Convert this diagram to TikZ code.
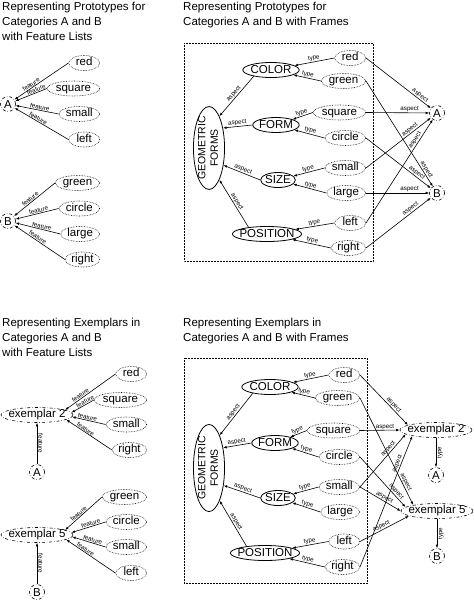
\documentclass[tikz,border=0pt]{standalone}
\usepackage{fontspec}
\setmainfont{Liberation Sans}
\usepackage{graphicx}
\usetikzlibrary{shapes.geometric,arrows.meta}

\tikzset{
  val/.style={draw, densely dotted, line width=0.6pt, ellipse, inner xsep=1pt, inner ysep=0pt,
    minimum width=31pt, minimum height=15pt, text height=8pt, text depth=2.5pt},
  attr/.style={draw, line width=0.8pt, ellipse, inner xsep=-0.5pt, inner ysep=0pt,
    minimum height=15pt, text height=8pt, text depth=0.5pt},
  exmp/.style={draw, dash dot, line width=0.6pt, ellipse, inner xsep=-3pt, inner ysep=0pt,
    minimum height=15pt, text height=8pt, text depth=2.5pt},
  cat/.style={draw, dash dot, line width=0.6pt, circle, inner sep=0pt, minimum size=15pt,
    text height=8pt, text depth=0pt},
  gf/.style={draw, line width=0.8pt, ellipse, inner xsep=-1.5pt, inner ysep=-2.5pt,
    font=\fontsize{10.5}{12.5}\selectfont},
  arr/.style={-{Latex[length=3.5pt,width=2.6pt]}, line width=0.6pt},
  lab/.style={font=\fontsize{6.2}{7}\selectfont, sloped, above, inner sep=0.5pt},
  vlab/.style={font=\fontsize{6.2}{7}\selectfont, inner sep=1pt},
  title/.style={anchor=north west, align=left, inner sep=0pt, font=\fontsize{11.5}{15}\selectfont},
  panelbox/.style={densely dotted, line width=0.5pt}
}

\begin{document}
\begin{tikzpicture}[x=1pt, y=-1pt, font=\fontsize{11.5}{14}\selectfont]
\useasboundingbox (0,0) rectangle (474,600);

% Prototypes with feature lists
\node[title] (ta) at (2,1.5) {Representing Prototypes for\\Categories A and B\\with Feature Lists};
\node[cat] (aA) at (8,104) {A};
\node[cat] (aB) at (8,221) {B};
\node[val, anchor=east] (ared) at (100,63) {red};
\node[val, anchor=east] (asquare) at (100,88.5) {square};
\node[val, anchor=east] (asmall) at (100,114) {small};
\node[val, anchor=east] (aleft) at (100,139.5) {left};
\node[val, anchor=east] (agreen) at (100,183) {green};
\node[val, anchor=east] (acircle) at (100,208.5) {circle};
\node[val, anchor=east] (alarge) at (100,234) {large};
\node[val, anchor=east] (aright) at (100,259.5) {right};

\draw[arr] (ared.west) -- node[lab, pos=0.66] {feature} (aA);
\draw[arr] (asquare.west) -- node[lab, pos=0.3] {feature} (aA);
\draw[arr] (asmall.west) -- node[lab, pos=0.45] {feature} (aA);
\draw[arr] (aleft.west) -- node[lab, pos=0.59] {feature} (aA);
\draw[arr] (agreen.west) -- node[lab, pos=0.56] {feature} (aB);
\draw[arr] (acircle.west) -- node[lab, pos=0.45] {feature} (aB);
\draw[arr] (alarge.west) -- node[lab, pos=0.43] {feature} (aB);
\draw[arr] (aright.west) -- node[lab, pos=0.57] {feature} (aB);

% Prototypes with frames
\node[title] (tb) at (183,1.5) {Representing Prototypes for\\Categories A and B with Frames};
\draw[panelbox] (184,43) rectangle (373,261);
\node[gf] (bgf) at (209,148) {\rotatebox{90}{\begin{tabular}{@{}c@{}}GEOMETRIC\\FORMS\end{tabular}}};
\node[attr] (bcolor) at (271,70) {COLOR};
\node[attr] (bform) at (276,125) {FORM};
\node[attr] (bsize) at (278,180) {SIZE};
\node[attr, inner xsep=-3pt] (bpos) at (267,234) {POSITION};
\node[val, anchor=east] (bred) at (366,58) {red};
\node[val, anchor=east] (bgreen) at (366,81) {green};
\node[val, anchor=east] (bsquare) at (366,112.5) {square};
\node[val, anchor=east] (bcircle) at (366,138) {circle};
\node[val, anchor=east] (bsmall) at (366,168) {small};
\node[val, anchor=east] (blarge) at (366,193) {large};
\node[val, anchor=east] (bleft) at (366,223) {left};
\node[val, anchor=east] (bright) at (366,248) {right};
\node[cat] (bA) at (437,113) {A};
\node[cat] (bB) at (437,193) {B};

\draw[arr] (bred.west) -- node[lab] {type} (bcolor);
\draw[arr] (bgreen.west) -- node[lab] {type} (bcolor);
\draw[arr] (bsquare.west) -- node[lab] {type} (bform);
\draw[arr] (bcircle.west) -- node[lab] {type} (bform);
\draw[arr] (bsmall.west) -- node[lab] {type} (bsize);
\draw[arr] (blarge.west) -- node[lab] {type} (bsize);
\draw[arr] (bleft.west) -- node[lab] {type} (bpos);
\draw[arr] (bright.west) -- node[lab] {type} (bpos);
\draw[arr] (bcolor.200) -- node[lab] {aspect} (bgf.72);
\draw[arr] (bform.west) -- node[lab] {aspect} (bgf.55);
\draw[arr] (bsize.west) -- node[lab] {aspect} (bgf.-50);
\draw[arr] (bpos.160) -- node[lab] {aspect} (bgf.-72);
\draw[arr] (bred.east) -- node[lab, pos=0.8] {aspect} (bA);
\draw[arr] (bsquare.east) -- node[lab, pos=0.69] {aspect} (bA);
\draw[arr] (bsmall.east) -- node[lab, pos=0.71] {aspect} (bA);
\draw[arr] (bleft.east) -- node[lab, pos=0.78] {aspect} (bA);
\draw[arr] (bgreen.east) -- node[lab, pos=0.86] {aspect} (bB);
\draw[arr] (bcircle.east) -- node[lab, pos=0.75] {aspect} (bB);
\draw[arr] (blarge.east) -- node[lab, pos=0.69] {aspect} (bB);
\draw[arr] (bright.east) -- node[lab, pos=0.72] {aspect} (bB);

% Exemplars with feature lists
\node[title] (tc) at (2,317.5) {Representing Exemplars in\\Categories A and B\\with Feature Lists};
\node[exmp] (cex2) at (37,415) {exemplar 2};
\node[exmp] (cex5) at (37,535) {exemplar 5};
\node[cat] (cA) at (37,472) {A};
\node[cat] (cB) at (37,592) {B};
\node[val, anchor=east] (cred) at (147,374) {red};
\node[val, anchor=east] (csquare) at (147,400) {square};
\node[val, anchor=east] (csmall) at (147,424.5) {small};
\node[val, anchor=east] (cright) at (147,450) {right};
\node[val, anchor=east] (cgreen) at (147,497) {green};
\node[val, anchor=east] (ccircle) at (147,522) {circle};
\node[val, anchor=east] (csmallb) at (147,547) {small};
\node[val, anchor=east] (cleft) at (147,573) {left};

\draw[arr] (cred.west) -- node[lab, pos=0.66] {feature} (cex2.10);
\draw[arr] (csquare.west) -- node[lab, pos=0.32] {feature} (cex2.4);
\draw[arr] (csmall.west) -- node[lab, pos=0.56] {feature} (cex2.-3);
\draw[arr] (cright.west) -- node[lab, pos=0.61] {feature} (cex2.-9);
\draw[arr] (cgreen.west) -- node[lab, pos=0.58] {feature} (cex5.10);
\draw[arr] (ccircle.west) -- node[lab, pos=0.41] {feature} (cex5.4);
\draw[arr] (csmallb.west) -- node[lab, pos=0.41] {feature} (cex5.-3);
\draw[arr] (cleft.west) -- node[lab, pos=0.64] {feature} (cex5.-9);
\draw[arr] (cA) -- node[vlab, rotate=-90, anchor=south] {feature} (cex2);
\draw[arr] (cB) -- node[vlab, rotate=-90, anchor=south] {feature} (cex5);

% Exemplars with frames
\node[title] (td) at (183,317.5) {Representing Exemplars in\\Categories A and B with Frames};
\draw[panelbox] (184,358) rectangle (367,583);
\node[gf, inner ysep=-1pt] (dgf) at (209,468) {\rotatebox{90}{\begin{tabular}{@{}c@{}}GEOMETRIC\\FORMS\end{tabular}}};
\node[attr] (dcolor) at (270,387) {COLOR};
\node[attr] (dform) at (275,443) {FORM};
\node[attr] (dsize) at (278,498) {SIZE};
\node[attr, inner xsep=-3pt] (dpos) at (265,553) {POSITION};
\node[val, anchor=east] (dred) at (360,375) {red};
\node[val, anchor=east] (dgreen) at (360,398) {green};
\node[val, anchor=east] (dsquare) at (360,430.5) {square};
\node[val, anchor=east] (dcircle) at (360,457) {circle};
\node[val, anchor=east] (dsmall) at (360,487) {small};
\node[val, anchor=east] (dlarge) at (360,512) {large};
\node[val, anchor=east] (dleft) at (360,541.5) {left};
\node[val, anchor=east] (dright) at (360,567) {right};
\node[exmp] (dex2) at (436,430) {exemplar 2};
\node[exmp] (dex5) at (437,511) {exemplar 5};
\node[cat] (dA) at (436,475) {A};
\node[cat] (dB) at (437,556) {B};

\draw[arr] (dred.west) -- node[lab] {type} (dcolor);
\draw[arr] (dgreen.west) -- node[lab] {type} (dcolor);
\draw[arr] (dsquare.west) -- node[lab] {type} (dform);
\draw[arr] (dcircle.west) -- node[lab] {type} (dform);
\draw[arr] (dsmall.west) -- node[lab] {type} (dsize);
\draw[arr] (dlarge.west) -- node[lab] {type} (dsize);
\draw[arr] (dleft.west) -- node[lab] {type} (dpos);
\draw[arr] (dright.west) -- node[lab] {type} (dpos);
\draw[arr] (dcolor.200) -- node[lab] {aspect} (dgf.72);
\draw[arr] (dform.west) -- node[lab] {aspect} (dgf.55);
\draw[arr] (dsize.west) -- node[lab] {aspect} (dgf.-50);
\draw[arr] (dpos.160) -- node[lab] {aspect} (dgf.-72);
\draw[arr] (dred.east) -- node[lab, pos=0.65] {aspect} (dex2.170);
\draw[arr] (dsquare.east) -- node[lab, pos=0.63] {aspect} (dex2.west);
\draw[arr] (dsmall.east) -- node[lab, pos=0.68] {aspect} (dex2.188);
\draw[arr] (dright.east) -- node[lab, pos=0.78] {aspect} (dex2.194);
\draw[arr] (dgreen.east) -- node[lab, pos=0.8] {aspect} (dex5.166);
\draw[arr] (dcircle.east) -- node[lab, pos=0.74] {aspect} (dex5.173);
\draw[arr] (dsmall.east) -- node[lab, pos=0.56] {aspect} (dex5.west);
\draw[arr] (dleft.east) -- node[lab, pos=0.47] {aspect} (dex5.190);
\draw[arr] (dex2) -- node[vlab, rotate=90, anchor=north] {type} (dA);
\draw[arr] (dex5) -- node[vlab, rotate=90, anchor=north] {type} (dB);
\end{tikzpicture}
\end{document}
